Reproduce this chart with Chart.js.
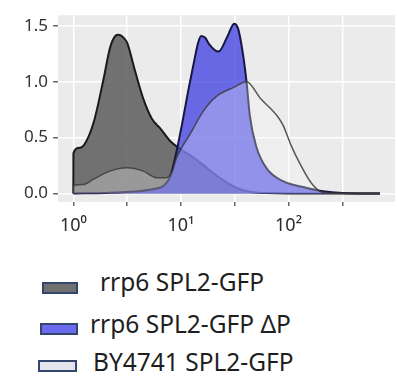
<!DOCTYPE html>
<html>
<head>
<meta charset="utf-8">
<script src="https://cdn.jsdelivr.net/npm/chart.js@4.4.1/dist/chart.umd.min.js"></script>
<style>
    body { margin: 0; background: #fff; }
    #wrap { position: relative; width: 398px; height: 380px; overflow: hidden; }
    #plot { position: absolute; left: 0; top: 0; width: 398px; height: 240px; }
    .legItem { position: absolute; font-family: "Noto Sans", "Open Sans", sans-serif; font-size: 24.5px; line-height: 24.5px; color: #1e1e1e; white-space: nowrap; }
    .legBox { position: absolute; box-sizing: border-box; border: 2px solid #34466e; }
</style>
</head>
<body>
<div id="wrap">
    <div id="plot"><canvas id="densityChart"></canvas></div>
    <div id="legend"></div>
</div>
<script>
// x is log10 of the fluorescence, y is density
const seriesNames = ['rrp6 SPL2-GFP', 'rrp6 SPL2-GFP \u0394P', 'BY4741 SPL2-GFP'];

const grayX = [0, 0.001, 0.06, 0.11, 0.19, 0.28, 0.34, 0.39, 0.42, 0.46, 0.50, 0.57, 0.65, 0.73, 0.81, 0.90, 0.99, 1.12, 1.24, 1.36, 1.52, 1.64, 1.80, 2.0, 2.85];
const grayY = [0, 0.36, 0.41, 0.45, 0.64, 1.02, 1.30, 1.41, 1.42, 1.40, 1.35, 1.11, 0.85, 0.67, 0.58, 0.47, 0.40, 0.32, 0.23, 0.14, 0.05, 0.015, 0.004, 0, 0];

const blueX = [0, 0.3, 0.6, 0.75, 0.84, 0.90, 0.96, 1.02, 1.07, 1.12, 1.16, 1.19, 1.23, 1.26, 1.35, 1.43, 1.495, 1.53, 1.57, 1.61, 1.64, 1.70, 1.80, 1.95, 2.17, 2.32, 2.5, 2.85];
const blueY = [0, 0.005, 0.02, 0.04, 0.07, 0.15, 0.38, 0.67, 0.93, 1.17, 1.35, 1.41, 1.39, 1.34, 1.27, 1.40, 1.52, 1.48, 1.29, 1.0, 0.70, 0.42, 0.22, 0.11, 0.05, 0.02, 0.005, 0];

const byX = [0, 0.001, 0.09, 0.19, 0.34, 0.50, 0.65, 0.78, 0.86, 0.92, 0.96, 1.09, 1.21, 1.33, 1.49, 1.61, 1.74, 1.89, 1.95, 2.02, 2.11, 2.20, 2.29, 2.36, 2.85];
const byY = [0, 0.07, 0.08, 0.13, 0.20, 0.23, 0.20, 0.14, 0.14, 0.20, 0.32, 0.54, 0.74, 0.87, 0.95, 1.0, 0.85, 0.70, 0.61, 0.44, 0.26, 0.11, 0.02, 0.005, 0];

const xTickValues = [0, 0.5, 1, 1.5, 2, 2.5];
const xTickLabels = ['10\u2070', '', '10\u00b9', '', '10\u00b2', ''];
const yTickValues = [0, 0.5, 1, 1.5];
const yTickLabels = ['0.0', '0.5', '1.0', '1.5'];

const fillColors = ['rgba(85,85,85,0.82)', 'rgba(60,60,225,0.75)', 'rgba(245,245,250,0.3)'];
const lineColors = ['#1a1a1a', '#16163e', 'rgba(60,60,60,0.85)'];
const legendFills = ['#707070', '#6b6bee', '#e4e4ea'];

function toPoints(xs, ys) {
    return xs.map((x, i) => ({ x: x, y: ys[i] }));
}

// ggplot-like grey panel behind the grid
const panelBg = {
    id: 'panelBg',
    beforeDraw(chart) {
        const a = chart.chartArea;
        const ctx = chart.ctx;
        ctx.save();
        ctx.fillStyle = '#ebebeb';
        ctx.fillRect(a.left, a.top, a.right - a.left, a.bottom - a.top);
        ctx.restore();
    }
};

function makeSet(idx, xs, ys, width) {
    return {
        label: seriesNames[idx],
        data: toPoints(xs, ys),
        backgroundColor: fillColors[idx],
        borderColor: lineColors[idx],
        borderWidth: width,
        fill: 'origin',
        pointRadius: 0,
        cubicInterpolationMode: 'monotone'
    };
}

// first dataset is drawn on top, so BY4741 goes first
const ctx = document.getElementById('densityChart').getContext('2d');
const densityChart = new Chart(ctx, {
    type: 'line',
    data: {
        datasets: [
            makeSet(2, byX, byY, 1.5),
            makeSet(1, blueX, blueY, 2),
            makeSet(0, grayX, grayY, 2)
        ]
    },
    options: {
        responsive: true,
        maintainAspectRatio: false,
        animation: false,
        layout: { padding: { top: 12, right: 3, left: 0, bottom: 0 } },
        plugins: {
            legend: { display: false },
            tooltip: { enabled: false }
        },
        scales: {
            x: {
                type: 'linear',
                min: -0.1425,
                max: 2.99,
                afterBuildTicks: scale => { scale.ticks = xTickValues.map(v => ({ value: v })); },
                afterFit: scale => { scale.height = 38; },
                border: { display: false },
                grid: { color: '#ffffff', lineWidth: 1.5, tickColor: '#666', tickLength: 4, tickWidth: 1.5 },
                ticks: {
                    autoSkip: false,
                    maxRotation: 0,
                    padding: 9,
                    color: '#2a2a2a',
                    font: { family: '"Noto Sans", "Open Sans", sans-serif', size: 18 },
                    callback: function (value) {
                        const i = xTickValues.indexOf(value);
                        return i >= 0 ? xTickLabels[i] : '';
                    }
                }
            },
            y: {
                type: 'linear',
                min: -0.076,
                max: 1.596,
                afterBuildTicks: scale => { scale.ticks = yTickValues.map(v => ({ value: v })); },
                afterFit: scale => { scale.width = 58; },
                border: { display: false },
                grid: { color: '#ffffff', lineWidth: 1.5, tickColor: '#666', tickLength: 5, tickWidth: 1.5 },
                ticks: {
                    padding: 5,
                    color: '#333',
                    font: { family: '"Noto Sans", "Open Sans", sans-serif', size: 17 },
                    callback: function (value) {
                        const i = yTickValues.indexOf(value);
                        return i >= 0 ? yTickLabels[i] : '';
                    }
                }
            }
        }
    },
    plugins: [panelBg]
});

// legend stacked under the plot, like the figure
const legendPos = [
    { box: [42, 282, 36, 12], text: [100, 270] },
    { box: [40, 323, 38, 12], text: [90, 311.5] },
    { box: [38, 360, 39, 12], text: [93, 350] }
];
const legendEl = document.getElementById('legend');
seriesNames.forEach((name, i) => {
    const p = legendPos[i];
    const box = document.createElement('div');
    box.className = 'legBox';
    box.style.left = p.box[0] + 'px';
    box.style.top = p.box[1] + 'px';
    box.style.width = p.box[2] + 'px';
    box.style.height = p.box[3] + 'px';
    box.style.background = legendFills[i];
    legendEl.appendChild(box);
    const txt = document.createElement('div');
    txt.className = 'legItem';
    txt.style.left = p.text[0] + 'px';
    txt.style.top = p.text[1] + 'px';
    txt.textContent = name;
    legendEl.appendChild(txt);
});
</script>
</body>
</html>
